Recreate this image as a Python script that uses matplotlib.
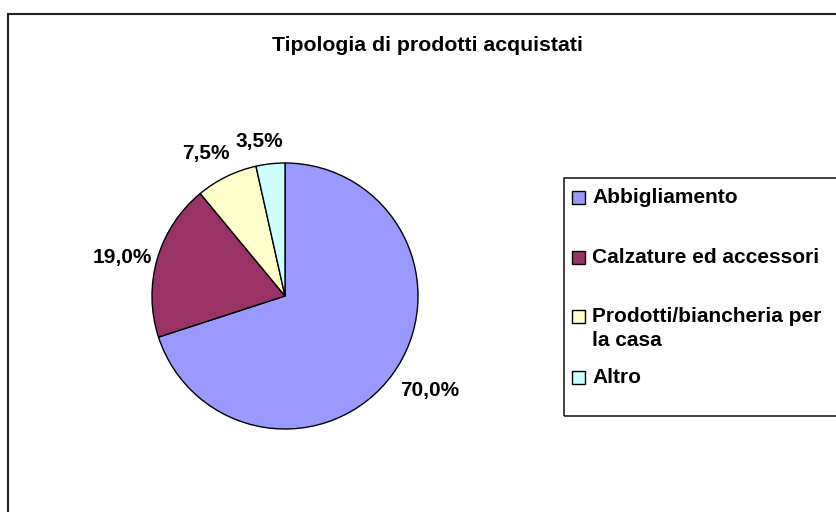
import matplotlib.pyplot as plt
import matplotlib.patches as mpatches
import numpy as np

# data
categories = ['Abbigliamento', 'Calzature ed accessori',
              'Prodotti/biancheria per\nla casa', 'Altro']
values = [70.0, 19.0, 7.5, 3.5]
colors = ['#9999FF', '#993366', '#FFFFCC', '#CCFFFF']
title = 'Tipologia di prodotti acquistati'

W, H = 837, 512
plt.rcParams['font.family'] = ['Liberation Sans', 'DejaVu Sans']
plt.rcParams['font.weight'] = 'bold'

fig = plt.figure(figsize=(W / 100, H / 100), dpi=100)
ax = fig.add_axes([0, 0, 1, 1])
ax.set_xlim(0, W)
ax.set_ylim(0, H)
ax.set_aspect('equal')
ax.axis('off')

def py(y):
    # pixel row (from top) -> data y
    return H - y

# outer chart frame (right/bottom run off the image)
ax.add_patch(mpatches.Rectangle((8, -20), W + 40, py(14) + 20, fill=False,
                                edgecolor='#222222', linewidth=1.5))

cx, cy, r = 285, py(296), 133
wedges, _ = ax.pie(values, colors=colors, startangle=90, counterclock=False,
                   center=(cx, cy), radius=r,
                   wedgeprops=dict(edgecolor='black', linewidth=1.0))
ax.set_xlim(0, W)
ax.set_ylim(0, H)

# percentage labels
label_dist = [1.30, 1.26, 1.23, 1.18]
for w, v, d in zip(wedges, values, label_dist):
    mid = np.deg2rad((w.theta1 + w.theta2) / 2 + 3)
    ax.text(cx + r * d * np.cos(mid), cy + r * d * np.sin(mid),
            f'{v:.1f}%'.replace('.', ','), ha='center', va='center',
            fontsize=15, fontweight='bold')

ax.text(427, py(45), title, ha='center', va='center',
        fontsize=15.3, fontweight='bold')

# legend
ax.add_patch(mpatches.Rectangle((564, py(416)), 300, 416 - 178, fill=False,
                                edgecolor='#222222', linewidth=1.2))
rows = [197, 257, 316, 377]
for lab, col, y in zip(categories, colors, rows):
    ax.add_patch(mpatches.Rectangle((572, py(y) - 7), 13, 13, facecolor=col,
                                    edgecolor='black', linewidth=1.0))
    ax.text(592, py(y) + 9, lab, ha='left', va='top', fontsize=15,
            fontweight='bold', linespacing=1.35)

fig.savefig('out.png', dpi=100)
